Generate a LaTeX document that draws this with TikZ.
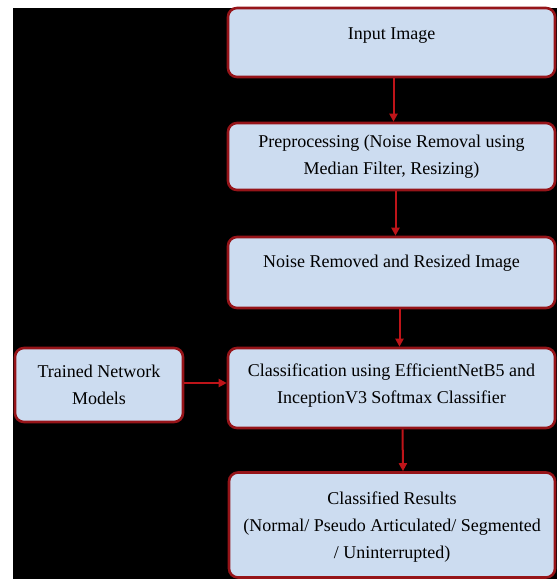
\documentclass[tikz,border=0pt]{standalone}
\usepackage{fontspec}
\setmainfont{Liberation Serif}
\usepackage{tikz}
\usetikzlibrary{arrows.meta}
\definecolor{boxred}{RGB}{150,20,25}
\definecolor{arrred}{RGB}{190,20,25}
\definecolor{boxblue}{RGB}{204,220,240}

\begin{document}
\begin{tikzpicture}[x = 1pt, y = -1pt,
  box/.style = {draw = boxred, line width = 2.6pt, fill = boxblue, rounded corners = 9pt,
    align = center, inner sep = 0pt, font = \fontsize{18}{27}\selectfont},
  flow/.style = {draw = arrred, line width = 2pt, -{Triangle[length = 8pt, width = 8pt]}}]
\useasboundingbox (0,0) rectangle (557,579);
\fill[white] (0,0) rectangle (557,579);
\fill[black] (13,8) rectangle (557,579);

\node[box, minimum width = 327pt, minimum height = 69pt, text depth = 18pt] (input) at (391.5,42.5) {Input Image};
\node[box, minimum width = 327pt, minimum height = 67pt] (prep) at (391.5,156.5) {Preprocessing (Noise Removal using\\Median Filter, Resizing)};
\node[box, minimum width = 327pt, minimum height = 71pt, text depth = 22pt] (noise) at (391.5,272.5) {Noise Removed and Resized Image};
\node[box, minimum width = 327pt, minimum height = 80pt, text depth = 8pt] (classif) at (391.5,388) {Classification using EfficientNetB5 and\\InceptionV3 Softmax Classifier};
\node[box, minimum width = 326pt, minimum height = 105pt, text depth = 0pt] (results) at (392,525) {Classified Results\\(Normal/ Pseudo Articulated/ Segmented\\/ Uninterrupted)};
\node[box, minimum width = 168pt, minimum height = 74pt] (trained) at (99,385) {Trained Network\\Models};

\draw[flow] ([xshift = 2pt]input.south) -- ([xshift = 2pt]prep.north);
\draw[flow] ([xshift = 4pt]prep.south) -- ([xshift = 4pt]noise.north);
\draw[flow] ([xshift = 8pt]noise.south) -- ([xshift = 8pt]classif.north);
\draw[flow] ([xshift = 11pt]classif.south) -- ([xshift = 11pt]results.north);
\draw[flow] (trained.east |- 0,383) -- (classif.west |- 0,383);

\end{tikzpicture}
\end{document}
